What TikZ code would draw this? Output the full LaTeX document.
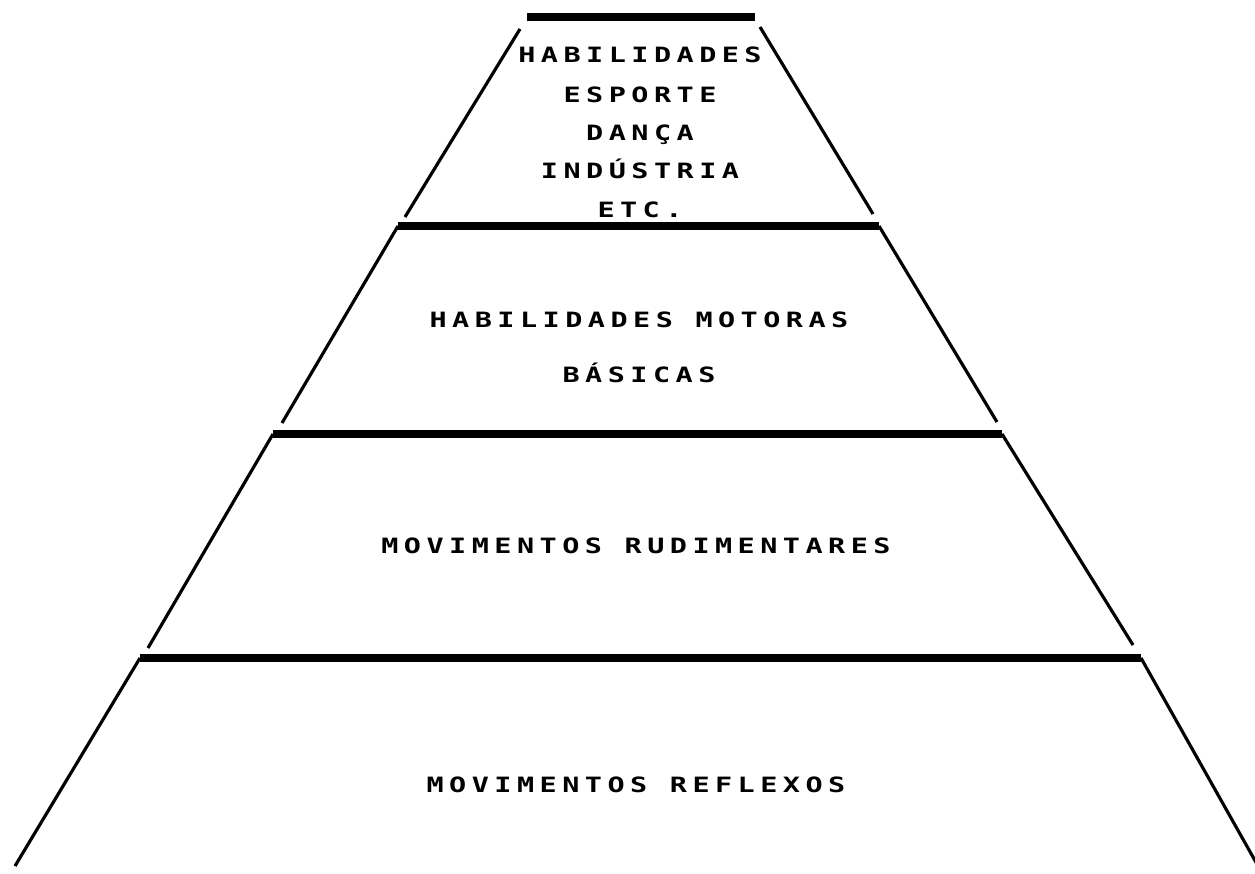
\documentclass[tikz,border=0pt]{standalone}
\usepackage{fontspec}
\newfontfamily\plotfont[FakeStretch=1.35,LetterSpace=26]{DejaVu Sans Mono}
\tikzset{
  bar/.style={line width=4pt},
  side/.style={line width=1.8pt},
  lbl/.style={anchor=base,inner sep=0pt,font=\plotfont\bfseries\fontsize{12}{14}\selectfont}
}

\begin{document}
\begin{tikzpicture}[x=0.02cm,y=-0.02cm]
	\useasboundingbox (0,0) rectangle (1255,873);
	% corners of the levels
	\coordinate (t1l) at (527,17);   \coordinate (t1r) at (755,17);
	\coordinate (s1l) at (520,29);   \coordinate (s1r) at (760,27);
	\coordinate (e1l) at (405,217);  \coordinate (e1r) at (873,214);
	\coordinate (t2l) at (398,226);  \coordinate (t2r) at (879,226);
	\coordinate (e2l) at (282,423);  \coordinate (e2r) at (997,422);
	\coordinate (t3l) at (273,434);  \coordinate (t3r) at (1002,434);
	\coordinate (e3l) at (148,648);  \coordinate (e3r) at (1133,645);
	\coordinate (t4l) at (140,658);  \coordinate (t4r) at (1141,658);
	\coordinate (e4l) at (15,866);   \coordinate (e4r) at (1262,873);
	\draw[bar] (t1l) to (t1r);
	\draw[bar] (t2l) to (t2r);
	\draw[bar] (t3l) to (t3r);
	\draw[bar] (t4l) to (t4r);
	\draw[side] (s1l) to (e1l);
	\draw[side] (s1r) to (e1r);
	\draw[side] (t2l) to (e2l);
	\draw[side] (t2r) to (e2r);
	\draw[side] (t3l) to (e3l);
	\draw[side] (t3r) to (e3r);
	\draw[side] (t4l) to (e4l);
	\draw[side] (t4r) to (e4r);
	% texts
	\node[lbl] (hab) at (640,62) {HABILIDADES};
	\node[lbl] (esp) at (640,102) {ESPORTE};
	\node[lbl] (dan) at (640,140) {DANÇA};
	\node[lbl] (ind) at (640,178) {INDÚSTRIA};
	\node[lbl] (etc) at (640,217) {ETC.};
	\node[lbl] (hmb) at (639,327) {HABILIDADES MOTORAS};
	\node[lbl] (bas) at (639,382) {BÁSICAS};
	\node[lbl] (mru) at (636,553) {MOVIMENTOS RUDIMENTARES};
	\node[lbl] (mre) at (636,792) {MOVIMENTOS REFLEXOS};
\end{tikzpicture}
\end{document}
